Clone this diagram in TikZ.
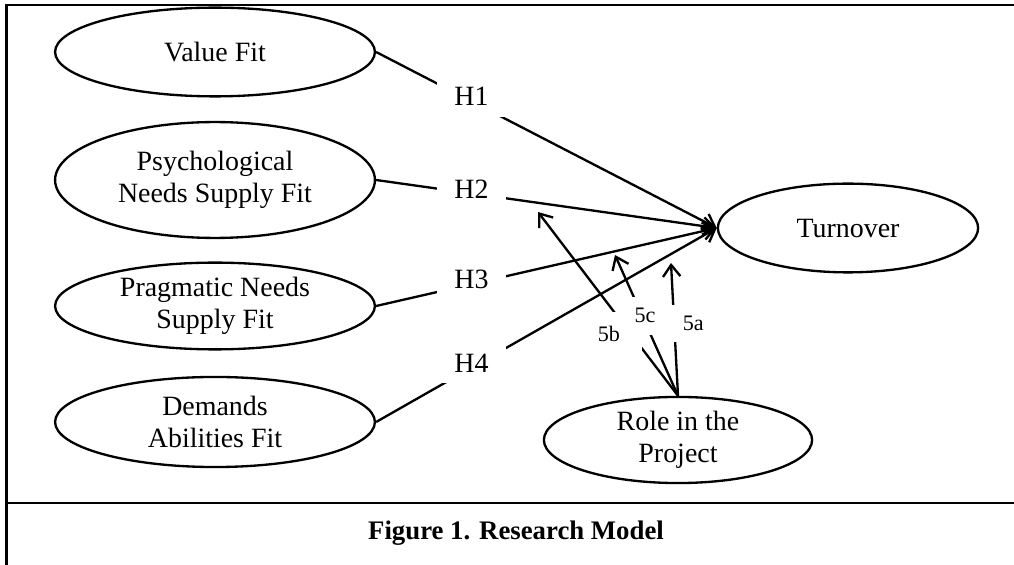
\documentclass[tikz,border=0pt]{standalone}
\usepackage{fontspec}
\setmainfont{Liberation Serif}
\usepackage{tikz}
\usetikzlibrary{shapes.geometric, arrows.meta, positioning}

\begin{document}
\begin{tikzpicture}[
  x=0.151cm, y=0.151cm,
  every node/.style={font=\fontsize{12}{13.8}\selectfont},
  construct/.style={ellipse, draw, line width=1pt, inner sep=0pt, align=center, minimum width=4.83cm},
  hyp/.style={-{Straight Barb[length=5pt,width=7.5pt]}, line width=1pt},
  hlabel/.style={fill=white, inner sep=0pt, minimum width=29.7pt, minimum height=17.5pt, pos=.28, yshift=2pt},
  mlabel/.style={fill=white, inner sep=0pt, font=\fontsize{9.5}{11}\selectfont},
]
  \useasboundingbox (0,0) rectangle (101.4,56.5);

  % Cadre et légende
  \draw[line width=1pt] (0.65,0) -- (0.65,56) -- (101.4,56);
  \draw[line width=1pt] (0.65,6.2) -- (101.4,6.2);
  \node[font=\fontsize{11.5}{14}\selectfont\bfseries] (cap) at (51.6,3.2) {Figure 1. Research Model};

  % Construits
  \node[construct, minimum height=1.34cm] (VF) at (21.5,51.3) {Value Fit};
  \node[construct, minimum height=1.75cm] (PN) at (21.5,38.5) {Psychological\\Needs Supply Fit};
  \node[construct, minimum height=1.31cm] (PR) at (21.5,25.9) {Pragmatic Needs\\Supply Fit};
  \node[construct, minimum height=1.36cm] (DA) at (21.5,14.3) {Demands\\Abilities Fit};
  \node[construct, minimum width=3.93cm, minimum height=1.34cm] (TO) at (84.8,33.7) {Turnover};
  \node[construct, minimum width=4.05cm, minimum height=1.30cm] (RP) at (67.8,12.5) {Role in the\\Project};

  % Hypothèses
  \draw[hyp] (VF.east) -- node[hlabel]{H1} (TO.west);
  \draw[hyp] (PN.east) -- node[hlabel]{H2} (TO.west);
  \draw[hyp] (PR.east) -- node[hlabel]{H3} (TO.west);
  \draw[hyp] (DA.east) -- node[hlabel]{H4} (TO.west);

  % Modération
  \coordinate (t5b) at (53.8,35.3);
  \coordinate (t5c) at (61.5,31.0);
  \coordinate (t5a) at (67.1,30.2);
  \draw[hyp] (RP.north) -- node[mlabel, pos=.335, xshift=-9.5pt, minimum width=28.4pt, minimum height=18.9pt]{5b} (t5b);
  \draw[hyp] (RP.north) -- node[mlabel, pos=.57, xshift=1.3pt, minimum width=15.5pt, minimum height=16.3pt]{5c} (t5c);
  \draw[hyp] (RP.north) -- node[mlabel, pos=.545, xshift=8.2pt, minimum width=19.8pt, minimum height=15.9pt]{5a} (t5a);
\end{tikzpicture}
\end{document}
